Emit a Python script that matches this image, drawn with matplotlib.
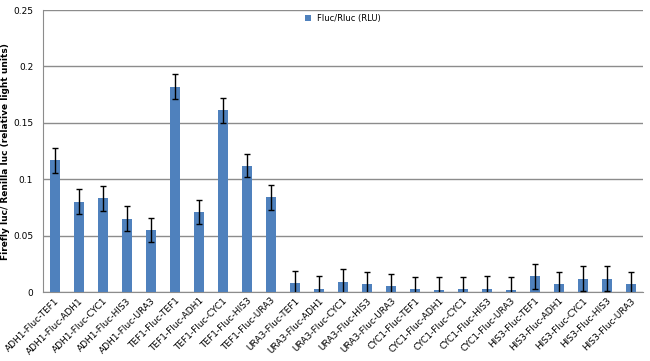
import numpy as np
import matplotlib
matplotlib.use("Agg")
import matplotlib.pyplot as plt

# promoter-Fluc-terminator constructs
labels = [
    "ADH1-Fluc-TEF1", "ADH1-Fluc-ADH1", "ADH1-Fluc-CYC1", "ADH1-Fluc-HIS3", "ADH1-Fluc-URA3",
    "TEF1-Fluc-TEF1", "TEF1-Fluc-ADH1", "TEF1-Fluc-CYC1", "TEF1-Fluc-HIS3", "TEF1-Fluc-URA3",
    "URA3-Fluc-TEF1", "URA3-Fluc-ADH1", "URA3-Fluc-CYC1", "URA3-Fluc-HIS3", "URA3-Fluc-URA3",
    "CYC1-Fluc-TEF1", "CYC1-Fluc-ADH1", "CYC1-Fluc-CYC1", "CYC1-Fluc-HIS3", "CYC1-Fluc-URA3",
    "HIS3-Fluc-TEF1", "HIS3-Fluc-ADH1", "HIS3-Fluc-CYC1", "HIS3-Fluc-HIS3", "HIS3-Fluc-URA3",
]
ratio = [
    0.117, 0.080, 0.083, 0.065, 0.055,
    0.182, 0.071, 0.161, 0.112, 0.084,
    0.008, 0.003, 0.009, 0.007, 0.005,
    0.003, 0.002, 0.003, 0.003, 0.002,
    0.014, 0.007, 0.012, 0.012, 0.007,
]
err = [
    0.011, 0.011, 0.011, 0.011, 0.011,
    0.011, 0.011, 0.011, 0.010, 0.011,
    0.011, 0.011, 0.011, 0.011, 0.011,
    0.010, 0.011, 0.010, 0.011, 0.011,
    0.011, 0.011, 0.011, 0.011, 0.011,
]
yticks = [0, 0.05, 0.1, 0.15, 0.2, 0.25]
ytick_labels = ["0", "0.05", "0.1", "0.15", "0.2", "0.25"]

fig = plt.figure(figsize=(6.5, 3.61), dpi=100)
ax = fig.add_axes([0.066, 0.191, 0.923, 0.781])

x = np.arange(len(labels))
ax.bar(x, ratio, width=0.42, color="#4F81BD", label="Fluc/Rluc (RLU)", zorder=3,
       yerr=err, error_kw=dict(ecolor="black", elinewidth=1, capsize=2.5, capthick=1))

ax.set_xlim(-0.5, len(labels) - 0.5)
ax.set_ylim(0, 0.25)
ax.set_yticks(yticks)
ax.set_yticklabels(ytick_labels, fontsize=6.5)
ax.set_xticks(x)
ax.set_xticklabels(labels, rotation=45, ha="right", rotation_mode="anchor", fontsize=6.5)
ax.tick_params(axis="x", length=0, pad=3)
ax.tick_params(axis="y", length=0, pad=7)
ax.yaxis.grid(True, color="#8c8c8c", linewidth=1, zorder=0)

for side in ["top", "right"]:
    ax.spines[side].set_visible(False)
ax.spines["left"].set_color("#8c8c8c")
ax.spines["bottom"].set_color("#8c8c8c")

ax.set_ylabel("Firefly luc/ Renilla luc (relative light units)", fontsize=6.5,
              fontweight="bold")
ax.yaxis.set_label_coords(-0.055, 0.5)
ax.legend(loc="upper center", bbox_to_anchor=(0.5, 1.0), frameon=False, fontsize=6,
          handlelength=0.7, handleheight=0.7, borderaxespad=0.1)

fig.savefig("out.png", dpi=100)
